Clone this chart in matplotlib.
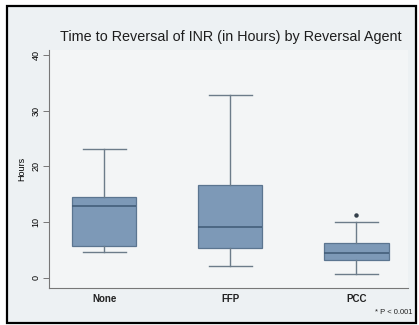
import matplotlib.pyplot as plt
from matplotlib.patches import Rectangle

plt.rcParams['font.family'] = ['Liberation Sans', 'DejaVu Sans']

# five-number summaries per reversal agent (hours)
agents = ['None', 'FFP', 'PCC']
whislo = [4.7, 2.15, 0.7]
q1 = [5.7, 5.3, 3.2]
med = [12.9, 9.1, 4.4]
q3 = [14.6, 16.6, 6.2]
whishi = [23.1, 32.9, 10.0]
outliers = [[], [], [11.3]]

yticks = [0, 10, 20, 30, 40]

stats = [dict(label=a, whislo=lo, q1=a1, med=m, q3=a3, whishi=hi, fliers=f)
         for a, lo, a1, m, a3, hi, f in zip(agents, whislo, q1, med, q3, whishi, outliers)]

fig = plt.figure(figsize=(4.19, 3.25), dpi=100)
fig.patch.set_facecolor('white')
fig.patches.append(Rectangle((7 / 419, 2 / 325), 409 / 419, 317 / 325,
                             transform=fig.transFigure, facecolor='#edf1f3',
                             edgecolor='black', lw=1.6, zorder=-10))

ax = fig.add_axes([0.117, 0.114, 0.857, 0.732])
ax.set_zorder(1)
ax.set_facecolor('#f3f5f6')

box_face = '#7d99b7'
line_col = '#6c7c8a'
ax.bxp(stats, positions=[1, 2, 3], widths=0.51, patch_artist=True,
       boxprops=dict(facecolor=box_face, edgecolor='#5b7590', lw=0.9),
       medianprops=dict(color='#3f5a75', lw=1.1),
       whiskerprops=dict(color=line_col, lw=1.0),
       capprops=dict(color=line_col, lw=1.0),
       capwidths=0.34,
       flierprops=dict(marker='o', markersize=2.2, markerfacecolor='#333f4a',
                       markeredgecolor='#333f4a'))

ax.set_xlim(0.563, 3.41)
ax.set_ylim(-1.8, 40.9)
ax.set_yticks(yticks)
ax.set_yticklabels([str(t) for t in yticks], rotation=90, va='center', fontsize=6.5)
ax.tick_params(axis='y', length=4, width=0.7, color='#777777', pad=2)
ax.tick_params(axis='x', length=0, labelsize=7, pad=4)
for lab in ax.get_xticklabels():
    lab.set_fontweight('bold')
    lab.set_color('#222222')
for s in ['top', 'right']:
    ax.spines[s].set_visible(False)
for s in ['left', 'bottom']:
    ax.spines[s].set_color('#777777')
    ax.spines[s].set_linewidth(0.8)

ax.set_ylabel('Hours', fontsize=6.5, labelpad=4)
fig.text(231 / 419, 1 - 37 / 325, 'Time to Reversal of INR (in Hours) by Reversal Agent',
         ha='center', va='center', fontsize=10.4, color='#1e1e1e')
fig.text(412 / 419, 1 - 312 / 325, '* P < 0.001', ha='right', va='center',
         fontsize=5.5, color='#222222')

fig.savefig('out.png', dpi=100)
